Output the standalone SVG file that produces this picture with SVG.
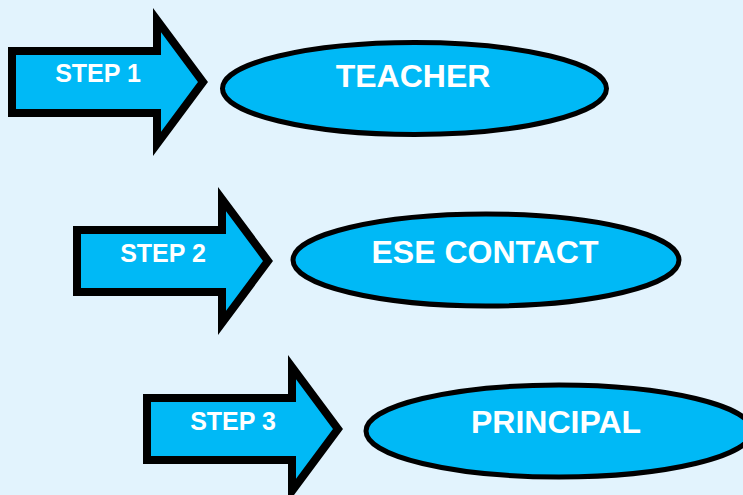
<svg xmlns="http://www.w3.org/2000/svg" width="743" height="495" viewBox="0 0 743 495">
<defs>
<style>
.arrow{fill:#00B9F6;stroke:#000;stroke-width:8;stroke-linejoin:miter;stroke-miterlimit:10}
.oval{fill:#00B9F6;stroke:#000;stroke-width:5}
.step{font-family:"Comic Sans MS","Liberation Sans",Arial,sans-serif;font-weight:bold;font-size:25px;fill:#fff;text-anchor:middle}
.lbl{font-family:"Comic Sans MS","Liberation Sans",Arial,sans-serif;font-weight:bold;font-size:32px;fill:#fff;text-anchor:middle}
</style>
<path id="arrowShape" d="M12,51 H157 V20 L203,82 L157,144 V113 H12 Z"/>
</defs>
<rect width="743" height="495" fill="#E2F3FD"/>
<g id="connectors">
<g id="step1" transform="translate(0,0)">
<use href="#arrowShape" class="arrow"/>
<text class="step" x="98" y="82">STEP 1</text>
</g>
<g id="step2" transform="translate(65,179)">
<use href="#arrowShape" class="arrow"/>
<text class="step" x="98" y="83">STEP 2</text>
</g>
<g id="step3" transform="translate(135,347)">
<use href="#arrowShape" class="arrow"/>
<text class="step" x="98" y="83">STEP 3</text>
</g>
</g>
<g id="teacher">
<ellipse class="oval" cx="414.5" cy="88.5" rx="192" ry="46"/>
<text class="lbl" x="413" y="87">TEACHER</text>
</g>
<g id="ese">
<ellipse class="oval" cx="486" cy="260" rx="193" ry="46"/>
<text class="lbl" x="485" y="263">ESE CONTACT</text>
</g>
<g id="principal">
<ellipse class="oval" cx="559" cy="431" rx="193" ry="46"/>
<text class="lbl" x="556" y="433">PRINCIPAL</text>
</g>
</svg>
